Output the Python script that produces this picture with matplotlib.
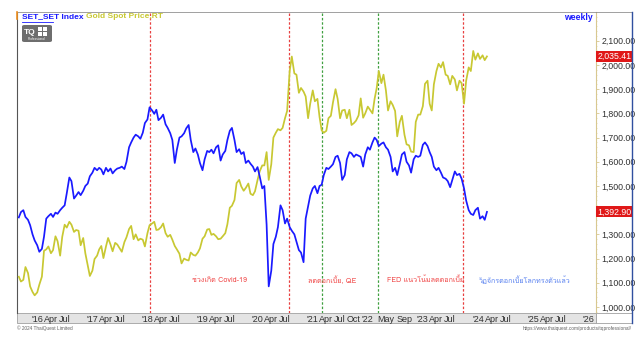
import matplotlib
matplotlib.use("Agg")
import matplotlib.pyplot as plt
import matplotlib.transforms as mtransforms
from matplotlib import font_manager
from matplotlib.patches import Rectangle, FancyBboxPatch
from matplotlib.lines import Line2D
import pandas as pd

# ----- DATA (semi-monthly closes) -----
dates = pd.date_range("2015-09-01", "2024-03-01", freq="SMS")

gold = [
    1125, 1105, 1112, 1165, 1140, 1085, 1062, 1048,  # 2015
    1060, 1092, 1125, 1232, 1238, 1250, 1222, 1235, 1292, 1272, 1212, 1290,
    1340, 1328, 1352, 1340, 1310, 1318, 1315, 1255, 1285, 1222, 1172, 1128,  # 2016
    1150, 1198, 1212, 1238, 1252, 1202, 1250, 1285, 1258, 1230, 1265, 1258,
    1242, 1228, 1268, 1288, 1322, 1335, 1280, 1300, 1275, 1282, 1278, 1250,  # 2017
    1305, 1338, 1345, 1352, 1318, 1320, 1330, 1345, 1305, 1290, 1298, 1278,
    1252, 1238, 1220, 1180, 1200, 1195, 1192, 1225, 1215, 1212, 1225, 1242,  # 2018
    1282, 1292, 1320, 1322, 1298, 1302, 1292, 1280, 1282, 1292, 1305, 1342,
    1410, 1418, 1442, 1512, 1525, 1498, 1480, 1492, 1510, 1468, 1462, 1478,  # 2019
    1525, 1560, 1585, 1585, 1640, 1525, 1590, 1700, 1720, 1735, 1730, 1740,
    1780, 1810, 1975, 2035, 1965, 1960, 1885, 1905, 1890, 1870, 1780, 1840,  # 2020
    1895, 1850, 1860, 1785, 1730, 1720, 1728, 1780, 1790, 1845, 1900, 1860,
    1780, 1812, 1815, 1780, 1815, 1752, 1760, 1770, 1792, 1862, 1782, 1800,  # 2021
    1828, 1815, 1800, 1860, 1905, 1975, 1925, 1960, 1895, 1812, 1850, 1835,
    1810, 1705, 1765, 1790, 1712, 1672, 1668, 1642, 1640, 1765, 1795, 1795,  # 2022
    1830, 1922, 1935, 1840, 1812, 1920, 1975, 2005, 1990, 2012, 1960, 1955,
    1920, 1955, 1940, 1895, 1935, 1925, 1840, 1935, 1990, 1975, 2058, 2022,  # 2023
    2048, 2025, 2040, 2020, 2035.41,  # 2024
]

set_index = [
    1370, 1392, 1400, 1372, 1360, 1338, 1300, 1275,  # 2015
    1255, 1228, 1240, 1290, 1365, 1375, 1385, 1372, 1390, 1385, 1400, 1410,
    1420, 1470, 1535, 1520, 1448, 1460, 1475, 1462, 1480, 1500, 1510, 1540,  # 2016
    1555, 1575, 1565, 1575, 1568, 1548, 1575, 1560, 1572, 1552, 1565, 1572,
    1575, 1580, 1570, 1600, 1660, 1680, 1700, 1712, 1705, 1695, 1720, 1760,  # 2017
    1775, 1825, 1812, 1798, 1815, 1772, 1782, 1795, 1755, 1740, 1718, 1690,
    1595, 1650, 1700, 1705, 1718, 1738, 1752, 1690, 1640, 1655, 1630, 1595,  # 2018
    1565, 1610, 1645, 1640, 1650, 1635, 1660, 1668, 1605, 1630, 1645, 1690,
    1728, 1740, 1690, 1640, 1652, 1632, 1640, 1595, 1605, 1592, 1580, 1560,  # 2019
    1578, 1540, 1490, 1500, 1340, 1085, 1150, 1260, 1290, 1330, 1420, 1400,
    1345, 1365, 1330, 1315, 1300, 1270, 1235, 1225, 1185, 1365, 1415, 1460,  # 2020
    1490, 1500, 1470, 1500, 1505, 1545, 1575, 1570, 1580, 1590, 1620, 1625,
    1595, 1525, 1545, 1610, 1640, 1635, 1620, 1630, 1625, 1620, 1580, 1630,  # 2021
    1660, 1650, 1680, 1700, 1690, 1665, 1675, 1680, 1660, 1650, 1620, 1560,
    1575, 1545, 1590, 1630, 1640, 1600, 1585, 1555, 1610, 1625, 1620, 1625,  # 2022
    1670, 1680, 1665, 1640, 1620, 1580, 1565, 1575, 1555, 1535, 1530, 1520,
    1495, 1525, 1560, 1545, 1550, 1530, 1490, 1440, 1400, 1385, 1380, 1400,  # 2023
    1410, 1365, 1375, 1360, 1392.90,  # 2024
]
assert len(dates) == len(gold) == len(set_index)

event_dates = ["2018-01-19", "2020-07-27", "2021-03-05", "2022-03-10", "2023-09-25"]
event_colors = ["#e84040", "#e84040", "#40a040", "#40a040", "#e84040"]

notes = ["ช่วงเกิด Covid-19", "ลดดอกเบี้ย, QE", "FED แนวโน้มลดดอกเบี้ย",
         "วัฏจักรดอกเบี้ยโลกทรงตัวแล้ว"]
note_x = [0.35, 0.545, 0.705, 0.877]
note_colors = ["#f04848", "#f04848", "#f04848", "#5a82f0"]

tick_dates = ["2016-01-01", "2016-04-01", "2016-07-01", "2017-01-01", "2017-04-01", "2017-07-01",
              "2018-01-01", "2018-04-01", "2018-07-01", "2019-01-01", "2019-04-01", "2019-07-01",
              "2020-01-01", "2020-04-01", "2020-07-01", "2021-01-01", "2021-04-01", "2021-07-01",
              "2021-10-01", "2022-01-01", "2022-05-01", "2022-09-01", "2023-01-01", "2023-04-01",
              "2023-07-01", "2024-01-01", "2024-04-01", "2024-07-01", "2025-01-01", "2025-04-01",
              "2025-07-01", "2026-01-01"]
tick_labels = ["'16", "Apr", "Jul", "'17", "Apr", "Jul", "'18", "Apr", "Jul", "'19", "Apr", "Jul",
               "'20", "Apr", "Jul", "'21", "Apr", "Jul", "Oct", "'22", "May", "Sep", "'23", "Apr",
               "Jul", "'24", "Apr", "Jul", "'25", "Apr", "Jul", "'26"]
y_ticks = [1000, 1100, 1200, 1300, 1400, 1500, 1600, 1700, 1800, 1900, 2000, 2100]

BLUE = "#1a1aff"
GOLD = "#c8c832"


def find_thai_font():
    # first installed family that has Thai glyphs
    from fontTools.ttLib import TTFont
    for f in font_manager.fontManager.ttflist:
        try:
            cmap = TTFont(f.fname, fontNumber=0, lazy=True).getBestCmap()
        except Exception:
            continue
        if cmap and 0x0E01 in cmap:
            return f.name
    return None


thai = find_thai_font()
plt.rcParams["font.family"] = ["Liberation Sans", "DejaVu Sans"]
thai_family = [thai, "Liberation Sans"] if thai else ["Liberation Sans", "DejaVu Sans"]

W, H = 637, 338
fig = plt.figure(figsize=(W / 100, H / 100), dpi=100)
fig.patch.set_facecolor("white")


def fx(px):
    return px / W


def fy(py):
    return 1 - py / H


ax = fig.add_axes([fx(17), fy(313), fx(596) - fx(17), fy(12) - fy(313)])
ax.plot(dates, gold, color=GOLD, lw=1.25, zorder=3)
ax.plot(dates, set_index, color=BLUE, lw=1.25, zorder=4)

for d, c in zip(event_dates, event_colors):
    ax.axvline(pd.Timestamp(d), color=c, lw=0.9, ls=(0, (2, 1.5)), zorder=2)

for t, x, c in zip(notes, note_x, note_colors):
    ax.text(x, 0.108, t, transform=ax.transAxes, ha="center", va="center",
            fontsize=5.2, color=c, family=thai_family)

ax.set_xlim(pd.Timestamp("2015-08-20"), pd.Timestamp("2026-02-22"))
ax.set_ylim(975, 2219)

ax.set_xticks([pd.Timestamp(d) for d in tick_dates])
ax.set_xticklabels(tick_labels)
ax.tick_params(axis="x", length=0, pad=1.2, labelsize=6.5, colors="#303030")

# the 1,400 label sits under the SET price tag, so it stays blank
ax.yaxis.tick_right()
ax.set_yticks(y_ticks)
ax.set_yticklabels(["" if v == 1400 else f"{v:,.2f}" for v in y_ticks])
ax.set_yticks(range(980, 2220, 20), minor=True)
ax.tick_params(axis="y", which="major", length=2, width=0.6, color="#d8c890",
               pad=2, labelsize=6.3, labelcolor="#303030")
ax.tick_params(axis="y", which="minor", length=1, width=0.5, color="#e0d4a8")

ax.spines["bottom"].set_visible(False)
ax.spines["left"].set_color("#555555")
ax.spines["left"].set_linewidth(0.8)
ax.spines["top"].set_color("#909090")
ax.spines["top"].set_linewidth(0.6)
ax.spines["right"].set_color("#d8c890")
ax.spines["right"].set_linestyle((0, (1, 1)))
ax.spines["right"].set_linewidth(0.8)

# last price tags on the right axis
tag_tr = mtransforms.blended_transform_factory(ax.transAxes, ax.transData)
for v in [gold[-1], set_index[-1]]:
    ax.text(1.002, v, f"{v:,.2f}", transform=tag_tr, ha="left", va="center",
            fontsize=6.3, color="white", zorder=6, clip_on=False,
            bbox=dict(boxstyle="square,pad=0.12", fc="#e01818", ec="none"))

# date band under the plot and outer frame
fig.add_artist(Rectangle((fx(17), fy(323)), fx(596) - fx(17), fy(313) - fy(323),
                         transform=fig.transFigure, fc="#e4e4e4", ec="#a0a0a0", lw=0.6, zorder=0))
fig.add_artist(Rectangle((fx(596), fy(323)), fx(632) - fx(596), fy(313) - fy(323),
                         transform=fig.transFigure, fc="white", ec="#a0a0a0", lw=0.6))
fig.add_artist(Line2D([fx(596), fx(632)], [fy(12), fy(12)], color="#909090", lw=0.6))
fig.add_artist(Line2D([fx(632), fx(632)], [fy(12), fy(323)], color="#3050a0", lw=1.0))
fig.add_artist(Line2D([fx(17), fx(17)], [fy(12), fy(19)], color="#f09020", lw=1.2))

# header
fig.text(fx(22), fy(17), "SET_SET Index", color=BLUE, fontsize=6.0, weight="bold", va="center")
fig.add_artist(Line2D([fx(22), fx(53)], [fy(21.5), fy(21.5)], color=BLUE, lw=0.6))
fig.text(fx(86), fy(17), "Gold Spot Price,RT", color=GOLD, fontsize=6.0, weight="bold", va="center")
fig.text(fx(593), fy(17), "weekly", color=BLUE, fontsize=6.2, weight="bold", va="center", ha="right")

# logo
fig.add_artist(FancyBboxPatch((fx(22), fy(42)), fx(52) - fx(22), fy(25) - fy(42),
                              boxstyle="round,pad=0,rounding_size=0.004",
                              transform=fig.transFigure, fc="#6e6e6e", ec="none"))
fig.text(fx(24), fy(32), "TQ", color="white", fontsize=6, weight="bold", va="center")
for dx, dy in [(38, 27), (43, 27), (38, 32), (43, 32)]:
    fig.add_artist(Rectangle((fx(dx), fy(dy + 4)), fx(4), fy(0) - fy(4),
                             transform=fig.transFigure, fc="white", ec="none"))
fig.text(fx(37), fy(39.5), "Professional", color="white", fontsize=2.3, ha="center", va="center")

# footer
fig.text(fx(17), fy(328.5), "© 2024 ThaiQuest Limited", color="#606060", fontsize=3.4, va="center")
fig.text(fx(632), fy(328.5), "https://www.thaiquest.com/products/tqprofessional/", color="#606060",
         fontsize=3.4, va="center", ha="right")

fig.savefig("out.png", dpi=100)
